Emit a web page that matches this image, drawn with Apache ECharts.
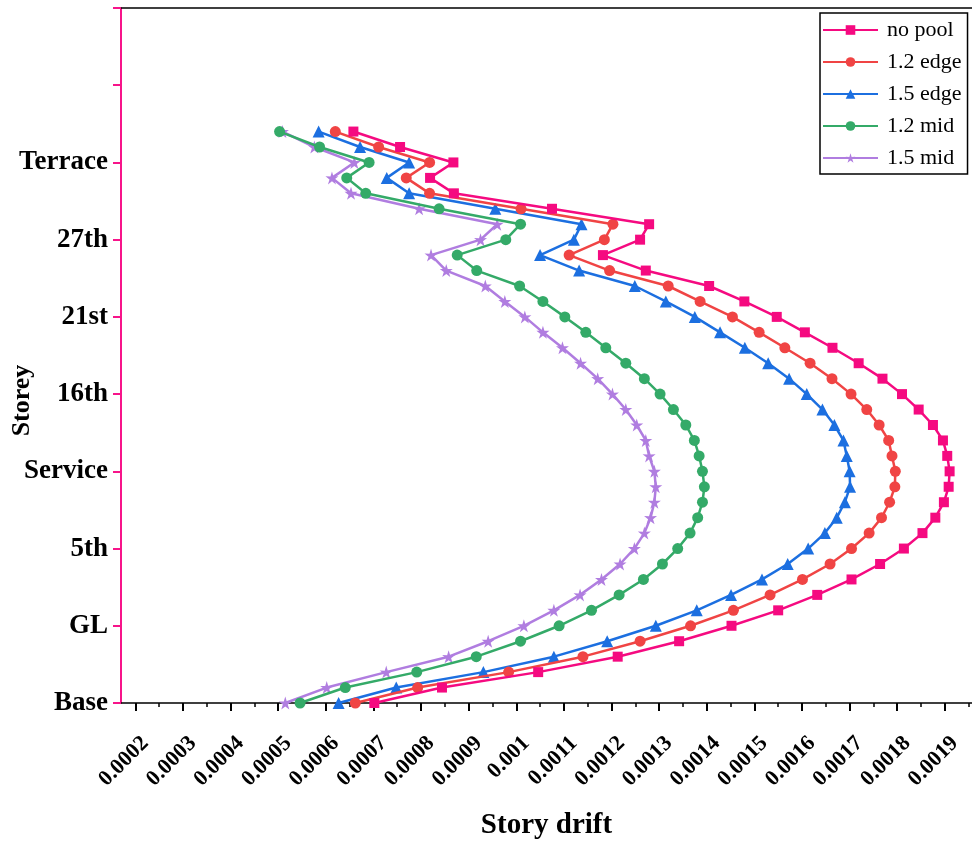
<!DOCTYPE html>
<html>
<head>
<meta charset="utf-8">
<script src="https://cdn.jsdelivr.net/npm/echarts@6/dist/echarts.min.js"></script>
<style>
  html, body { margin: 0; padding: 0; background: #fff; }
  #chart { width: 972px; height: 844px; }
</style>
</head>
<body>
<div id="chart"></div>
<script>
// storey index 0 = Base ... 37 = roof
var storeys = [0, 1, 2, 3, 4, 5, 6, 7, 8, 9, 10, 11, 12, 13, 14, 15, 16, 17, 18, 19,
  20, 21, 22, 23, 24, 25, 26, 27, 28, 29, 30, 31, 32, 33, 34, 35, 36, 37];
var storeyLabels = ["Base", "GL", "5th", "Service", "16th", "21st", "27th", "Terrace"];

var seriesNames = ["no pool", "1.2 edge", "1.5 edge", "1.2 mid", "1.5 mid"];

var noPool = [0.000702, 0.000844, 0.001046, 0.001213, 0.001342, 0.001452, 0.001550, 0.001632,
  0.001704, 0.001764, 0.001814, 0.001853, 0.001880, 0.001898, 0.001908, 0.001910, 0.001905,
  0.001896, 0.001875, 0.001845, 0.001810, 0.001769, 0.001719, 0.001664, 0.001606, 0.001547,
  0.001479, 0.001405, 0.001272, 0.001182, 0.001260, 0.001279, 0.001075, 0.000869, 0.000819,
  0.000868, 0.000756, 0.000658];
var edge12 = [0.000662, 0.000793, 0.000984, 0.001140, 0.001260, 0.001366, 0.001456, 0.001533,
  0.001601, 0.001659, 0.001704, 0.001741, 0.001767, 0.001784, 0.001795, 0.001796, 0.001789,
  0.001782, 0.001762, 0.001736, 0.001703, 0.001663, 0.001617, 0.001564, 0.001510, 0.001454,
  0.001386, 0.001319, 0.001196, 0.001111, 0.001185, 0.001203, 0.001010, 0.000818, 0.000769,
  0.000818, 0.000711, 0.000620];
var edge15 = [0.000627, 0.000748, 0.000931, 0.001079, 0.001191, 0.001293, 0.001379, 0.001451,
  0.001516, 0.001570, 0.001613, 0.001648, 0.001673, 0.001690, 0.001701, 0.001700, 0.001694,
  0.001687, 0.001668, 0.001643, 0.001610, 0.001573, 0.001529, 0.001480, 0.001428, 0.001375,
  0.001314, 0.001249, 0.001132, 0.001050, 0.001121, 0.001137, 0.000956, 0.000775, 0.000728,
  0.000775, 0.000672, 0.000585];
var mid12 = [0.000546, 0.000641, 0.000791, 0.000916, 0.001009, 0.001090, 0.001158, 0.001216,
  0.001267, 0.001307, 0.001339, 0.001365, 0.001381, 0.001391, 0.001395, 0.001391, 0.001384,
  0.001374, 0.001356, 0.001330, 0.001302, 0.001269, 0.001230, 0.001188, 0.001146, 0.001102,
  0.001056, 0.001007, 0.000917, 0.000876, 0.000978, 0.001009, 0.000838, 0.000684, 0.000644,
  0.000691, 0.000587, 0.000503];
var mid15 = [0.000515, 0.000602, 0.000727, 0.000858, 0.000941, 0.001016, 0.001079, 0.001134,
  0.001179, 0.001218, 0.001248, 0.001269, 0.001282, 0.001290, 0.001293, 0.001290, 0.001279,
  0.001272, 0.001253, 0.001230, 0.001202, 0.001171, 0.001135, 0.001097, 0.001056, 0.001018,
  0.000976, 0.000935, 0.000853, 0.000821, 0.000925, 0.000960, 0.000796, 0.000653, 0.000613,
  0.000660, 0.000576, 0.000509];

var xTickLabels = ["0.0002", "0.0003", "0.0004", "0.0005", "0.0006", "0.0007", "0.0008", "0.0009",
  "0.001", "0.0011", "0.0012", "0.0013", "0.0014", "0.0015", "0.0016", "0.0017", "0.0018", "0.0019"];
var xMinorTicks = ["0.00025", "0.00035", "0.00045", "0.00055", "0.00065", "0.00075", "0.00085",
  "0.00095", "0.00105", "0.00115", "0.00125", "0.00135", "0.00145", "0.00155", "0.00165",
  "0.00175", "0.00185", "0.00195"];

var xMin = 0.00017, xMax = 0.001957;
var labelShift = 0.000021; // labels sit a little right of their ticks
var font = "'Liberation Serif', 'Times New Roman', serif";
var colors = ["#f50a80", "#f04444", "#1c6fe0", "#34aa68", "#b07de0"];
var star = "path://M0,-10L2.2,-3L9.5,-3.1L3.6,1.2L5.9,8.1L0,3.9L-5.9,8.1L-3.6,1.2L-9.5,-3.1L-2.2,-3Z";
var symbols = ["rect", "circle", "triangle", "circle", star];
var symbolSizes = [10, 11, 12, 11, 13];
var allData = [noPool, edge12, edge15, mid12, mid15];

var tickVals = xTickLabels.map(function (s) { return parseFloat(s); });
var minorVals = xMinorTicks.map(function (s) { return parseFloat(s); });

var series = allData.map(function (vals, i) {
  return {
    name: seriesNames[i],
    type: "line",
    xAxisIndex: 0,
    yAxisIndex: 0,
    data: vals.map(function (v, j) { return [v, storeys[j]]; }),
    symbol: symbols[i],
    symbolSize: symbolSizes[i],
    showAllSymbol: true,
    clip: false,
    lineStyle: { color: colors[i], width: 2.5 },
    itemStyle: { color: colors[i] },
    z: 10 - i
  };
});

var myChart = echarts.init(document.getElementById("chart"));
var option = {
  backgroundColor: "#fff",
  animation: false,
  grid: { left: 121, right: 0, top: 8, bottom: 141, containLabel: false, outerBoundsMode: "none" },
  legend: {
    orient: "vertical",
    left: 820,
    top: 13,
    data: seriesNames,
    itemWidth: 55,
    itemHeight: 12,
    itemGap: 10,
    padding: [6, 6, 5, 2],
    borderColor: "#000",
    borderWidth: 1.5,
    textStyle: { fontFamily: font, fontSize: 22, color: "#000", padding: [0, 0, 0, 4] }
  },
  xAxis: [
    {
      type: "value",
      min: xMin,
      max: xMax,
      position: "bottom",
      name: "Story drift",
      nameLocation: "middle",
      nameGap: 108,
      nameMoveOverlap: false,
      nameTextStyle: { fontFamily: font, fontSize: 29, fontWeight: "bold", color: "#000" },
      axisLine: { onZero: false, lineStyle: { color: "#000", width: 1.5 } },
      axisTick: { show: true, length: 8, customValues: tickVals, lineStyle: { color: "#000", width: 2 } },
      axisLabel: { show: false },
      splitLine: { show: false }
    },
    {
      type: "value",
      min: xMin,
      max: xMax,
      position: "bottom",
      axisLine: { show: false },
      axisTick: { show: true, length: 4, customValues: minorVals, lineStyle: { color: "#000", width: 1.5 } },
      axisLabel: { show: false },
      splitLine: { show: false }
    },
    {
      type: "value",
      min: xMin - labelShift,
      max: xMax - labelShift,
      position: "bottom",
      axisLine: { show: false },
      axisTick: { show: false },
      axisLabel: {
        customValues: tickVals,
        rotate: 45,
        margin: 37,
        fontFamily: font,
        fontSize: 22,
        fontWeight: "bold",
        color: "#000",
        formatter: function (v) {
          var k = tickVals.indexOf(v);
          return k >= 0 ? xTickLabels[k] : "";
        }
      },
      splitLine: { show: false }
    },
    {
      type: "value",
      min: xMin,
      max: xMax,
      position: "top",
      axisLine: { onZero: false, lineStyle: { color: "#000", width: 1.5 } },
      axisTick: { show: false },
      axisLabel: { show: false },
      splitLine: { show: false }
    }
  ],
  yAxis: {
    type: "value",
    min: 0,
    max: 45,
    interval: 5,
    name: "Storey",
    nameLocation: "middle",
    nameGap: 86,
    nameMoveOverlap: false,
    // pad on the right so the rotated name sits lower, level with 16th
    nameTextStyle: { fontFamily: font, fontSize: 26, fontWeight: "bold", color: "#000", padding: [0, 90, 0, 0] },
    axisLine: { show: true, onZero: false, lineStyle: { color: "#f7148a", width: 2 } },
    axisTick: { show: true, length: 8, lineStyle: { color: "#f7148a", width: 2 } },
    axisLabel: {
      margin: 13,
      fontFamily: font,
      fontSize: 27,
      fontWeight: "bold",
      color: "#000",
      formatter: function (v) {
        return storeyLabels[v / 5] || "";
      }
    },
    splitLine: { show: false }
  },
  series: series
};
myChart.setOption(option);
</script>
</body>
</html>
